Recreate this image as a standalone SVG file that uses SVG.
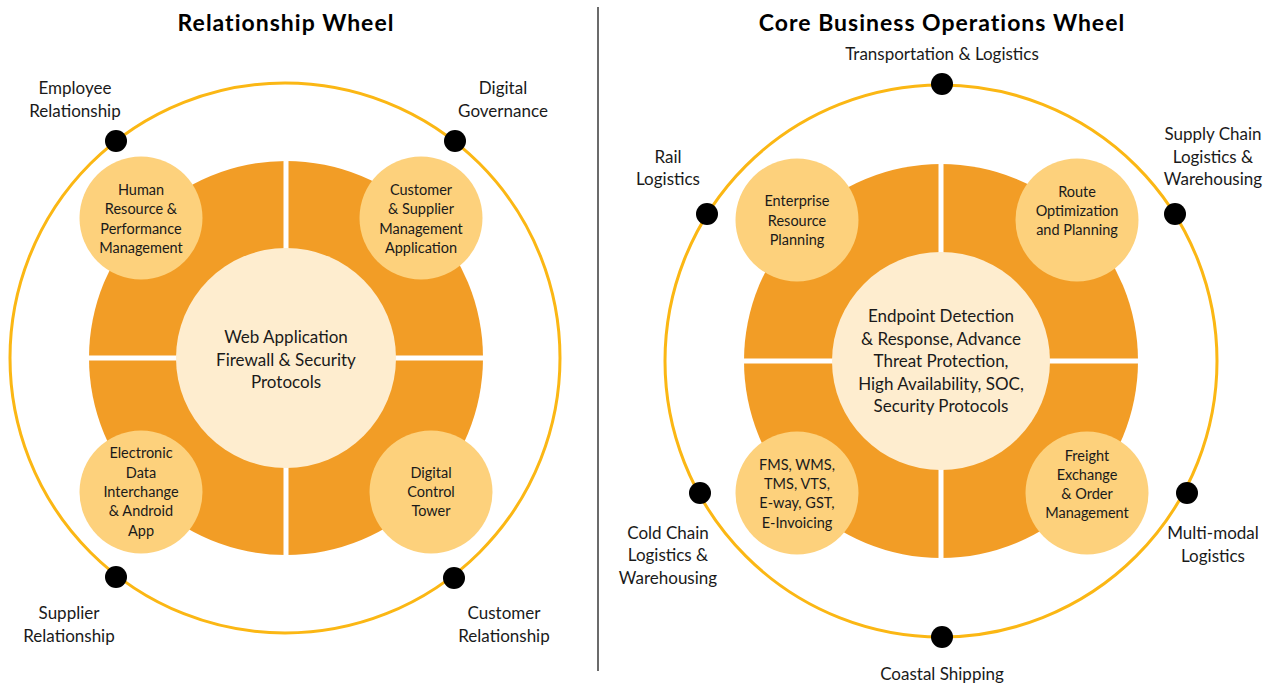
<svg xmlns="http://www.w3.org/2000/svg" width="1274" height="686" viewBox="0 0 1274 686">
<style>
text{font-family:Lato,"Open Sans","DejaVu Sans",sans-serif;fill:#1a1a1a;text-anchor:middle}
.title{font-size:23px;font-weight:bold;fill:#000;letter-spacing:1px}
.lbl{font-size:17px}
.node{font-size:14.5px}
.core{font-size:17px}
.ring{fill:none;stroke:#FBB714;stroke-width:3}
.quad{fill:#F29D26}
.gap{fill:#fff}
.sat{fill:#FDD17C}
.hub{fill:#FEEDCF}
.dot{fill:#000}
</style>
<rect width="1274" height="686" fill="#fff"/>
<line x1="598" y1="7" x2="598" y2="671" stroke="#6b6b6b" stroke-width="2"/>

<text class="title" x="286" y="31">Relationship Wheel</text>
<text class="title" x="942" y="31">Core Business Operations Wheel</text>

<!-- LEFT WHEEL -->
<g id="left-wheel">
<circle class="ring" cx="285" cy="358" r="275"/>
<circle class="quad" cx="286" cy="358" r="197"/>
<rect class="gap" x="283.5" y="158" width="5" height="400"/>
<rect class="gap" x="86" y="355.5" width="400" height="5"/>
</g>
<g id="left-hub">
<circle class="hub" cx="286" cy="358" r="110"/>
<text class="core" x="286" y="343">Web Application</text>
<text class="core" x="286" y="366">Firewall &amp; Security</text>
<text class="core" x="286" y="388">Protocols</text>
</g>
<g id="hr">
<circle class="sat" cx="141" cy="218" r="61.5"/>
<text class="node" x="141" y="195">Human</text>
<text class="node" x="141" y="214">Resource &amp;</text>
<text class="node" x="141" y="234">Performance</text>
<text class="node" x="141" y="253">Management</text>
</g>
<g id="csm">
<circle class="sat" cx="421" cy="218" r="61.5"/>
<text class="node" x="421" y="195">Customer</text>
<text class="node" x="421" y="214">&amp; Supplier</text>
<text class="node" x="421" y="234">Management</text>
<text class="node" x="421" y="253">Application</text>
</g>
<g id="edi">
<circle class="sat" cx="141" cy="492" r="61.5"/>
<text class="node" x="141" y="458">Electronic</text>
<text class="node" x="141" y="478">Data</text>
<text class="node" x="141" y="497">Interchange</text>
<text class="node" x="141" y="516">&amp; Android</text>
<text class="node" x="141" y="536">App</text>
</g>
<g id="dct">
<circle class="sat" cx="431" cy="492" r="61.5"/>
<text class="node" x="431" y="478">Digital</text>
<text class="node" x="431" y="497">Control</text>
<text class="node" x="431" y="516">Tower</text>
</g>
<g id="employee">
<circle class="dot" cx="116" cy="141" r="11"/>
<text class="lbl" x="75" y="94">Employee</text>
<text class="lbl" x="75" y="117">Relationship</text>
</g>
<g id="governance">
<circle class="dot" cx="455" cy="141" r="11"/>
<text class="lbl" x="503" y="94">Digital</text>
<text class="lbl" x="503" y="117">Governance</text>
</g>
<g id="supplier">
<circle class="dot" cx="116" cy="577" r="11"/>
<text class="lbl" x="69" y="619">Supplier</text>
<text class="lbl" x="69" y="642">Relationship</text>
</g>
<g id="customer">
<circle class="dot" cx="454" cy="578" r="11"/>
<text class="lbl" x="504" y="619">Customer</text>
<text class="lbl" x="504" y="642">Relationship</text>
</g>

<!-- RIGHT WHEEL -->
<g id="right-wheel">
<circle class="ring" cx="941" cy="361" r="276"/>
<circle class="quad" cx="941" cy="361" r="197"/>
<rect class="gap" x="938.5" y="161" width="5" height="400"/>
<rect class="gap" x="741" y="358.5" width="400" height="5"/>
</g>
<g id="right-hub">
<circle class="hub" cx="941" cy="361" r="109"/>
<text class="core" x="941" y="322">Endpoint Detection</text>
<text class="core" x="941" y="345">&amp; Response, Advance</text>
<text class="core" x="941" y="367">Threat Protection,</text>
<text class="core" x="941" y="390">High Availability, SOC,</text>
<text class="core" x="941" y="412">Security Protocols</text>
</g>
<g id="erp">
<circle class="sat" cx="797" cy="220" r="61.5"/>
<text class="node" x="797" y="206">Enterprise</text>
<text class="node" x="797" y="226">Resource</text>
<text class="node" x="797" y="245">Planning</text>
</g>
<g id="route">
<circle class="sat" cx="1077" cy="220" r="61.5"/>
<text class="node" x="1077" y="197">Route</text>
<text class="node" x="1077" y="216">Optimization</text>
<text class="node" x="1077" y="235">and Planning</text>
</g>
<g id="fms">
<circle class="sat" cx="797" cy="493" r="61.5"/>
<text class="node" x="797" y="470">FMS, WMS,</text>
<text class="node" x="797" y="489">TMS, VTS,</text>
<text class="node" x="797" y="508">E-way, GST,</text>
<text class="node" x="797" y="528">E-Invoicing</text>
</g>
<g id="freight">
<circle class="sat" cx="1087" cy="493" r="61.5"/>
<text class="node" x="1087" y="461">Freight</text>
<text class="node" x="1087" y="480">Exchange</text>
<text class="node" x="1087" y="499">&amp; Order</text>
<text class="node" x="1087" y="518">Management</text>
</g>
<g id="transport">
<circle class="dot" cx="942" cy="84" r="11"/>
<text class="lbl" x="942" y="60">Transportation &amp; Logistics</text>
</g>
<g id="rail">
<circle class="dot" cx="707" cy="214" r="11"/>
<text class="lbl" x="668" y="163">Rail</text>
<text class="lbl" x="668" y="185">Logistics</text>
</g>
<g id="supplychain">
<circle class="dot" cx="1175" cy="214" r="11"/>
<text class="lbl" x="1213" y="140">Supply Chain</text>
<text class="lbl" x="1213" y="163">Logistics &amp;</text>
<text class="lbl" x="1213" y="185">Warehousing</text>
</g>
<g id="coldchain">
<circle class="dot" cx="700" cy="493" r="11"/>
<text class="lbl" x="668" y="539">Cold Chain</text>
<text class="lbl" x="668" y="561">Logistics &amp;</text>
<text class="lbl" x="668" y="584">Warehousing</text>
</g>
<g id="multimodal">
<circle class="dot" cx="1187" cy="493" r="11"/>
<text class="lbl" x="1213" y="539">Multi-modal</text>
<text class="lbl" x="1213" y="562">Logistics</text>
</g>
<g id="coastal">
<circle class="dot" cx="942" cy="637" r="11"/>
<text class="lbl" x="942" y="680">Coastal Shipping</text>
</g>
<g id="connectors"></g>
</svg>
